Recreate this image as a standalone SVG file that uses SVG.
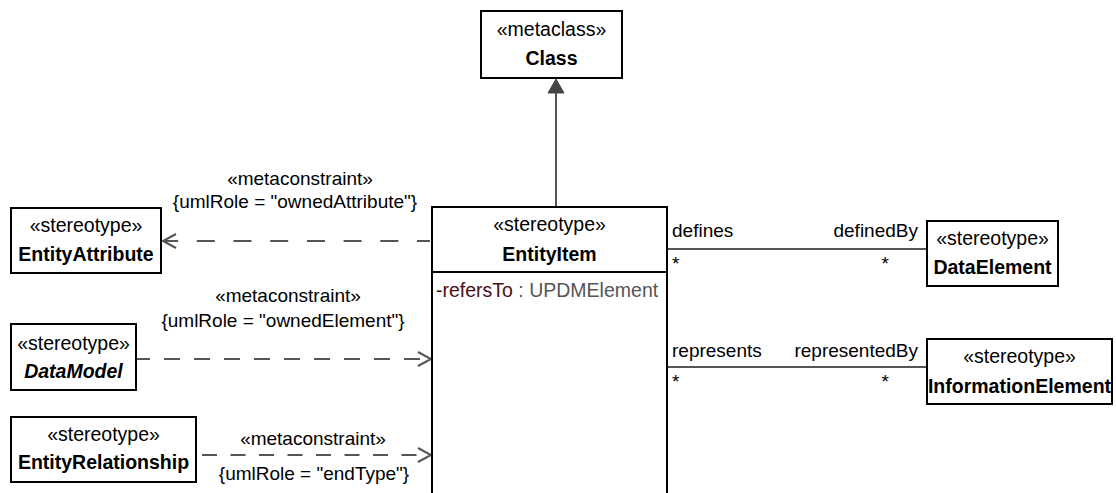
<svg xmlns="http://www.w3.org/2000/svg" width="1116" height="493" viewBox="0 0 1116 493">
<style>
text{font-family:"Liberation Sans",Arial,sans-serif;font-size:19.5px;fill:#000}
.b{font-weight:bold}
.bi{font-weight:bold;font-style:italic}
.c{text-anchor:middle}
.e{text-anchor:end}
.box{fill:#fff;stroke:#000;stroke-width:2}
.ln{fill:none;stroke:#555;stroke-width:2}
.dash{fill:none;stroke:#555;stroke-width:2}
.lbl{font-size:19px}
</style>
<rect width="1116" height="493" fill="#fff"/>
<g id="connectors">
  <line class="ln" x1="556" y1="207" x2="556" y2="90"/>
  <polygon points="556,79 548,93 564,93" fill="#444" stroke="#444" stroke-width="1"/>
  <line class="dash" x1="430" y1="241" x2="163" y2="241" stroke-dasharray="18 18.7" stroke-dashoffset="5"/>
  <polyline class="ln" points="176,234 163,241 176,248"/>
  <line class="dash" x1="137" y1="359" x2="431" y2="359" stroke-dasharray="16 14" stroke-dashoffset="3"/>
  <polyline class="ln" points="418,352 431,359 418,366"/>
  <line class="dash" x1="202" y1="455" x2="431" y2="455" stroke-dasharray="15 13.5"/>
  <polyline class="ln" points="418,448 431,455 418,462"/>
  <line class="ln" x1="668" y1="249" x2="927" y2="249"/>
  <line class="ln" x1="668" y1="367" x2="927" y2="367"/>
  <text class="c lbl" x="300" y="185">«metaconstraint»</text>
  <text class="c lbl" x="295" y="208">{umlRole = "ownedAttribute"}</text>
  <text class="c lbl" x="288" y="302">«metaconstraint»</text>
  <text class="c lbl" x="283" y="327">{umlRole = "ownedElement"}</text>
  <text class="c lbl" x="313" y="445">«metaconstraint»</text>
  <text class="c lbl" x="314" y="480">{umlRole = "endType"}</text>
  <text class="lbl" x="672" y="237">defines</text>
  <text class="e lbl" x="918" y="237">definedBy</text>
  <text class="lbl" x="672" y="270">*</text>
  <text class="e lbl" x="889" y="270">*</text>
  <text class="lbl" x="672" y="357">represents</text>
  <text class="e lbl" x="918" y="357">representedBy</text>
  <text class="lbl" x="672" y="388">*</text>
  <text class="e lbl" x="889" y="388">*</text>
</g>
<g id="Class">
  <rect class="box" x="481" y="11" width="141" height="67"/>
  <text class="c" x="551.5" y="36">«metaclass»</text>
  <text class="c b" x="551.5" y="65">Class</text>
</g>
<g id="EntityItem">
  <rect class="box" x="432" y="207" width="235" height="300"/>
  <line x1="432" y1="272" x2="667" y2="272" stroke="#000" stroke-width="2"/>
  <text class="c" x="549.5" y="231">«stereotype»</text>
  <text class="c b" x="549.5" y="261">EntityItem</text>
  <text x="436" y="297"><tspan fill="#4a1010">-refersTo</tspan><tspan fill="#555"> : UPDMElement</tspan></text>
</g>
<g id="EntityAttribute">
  <rect class="box" x="11" y="208" width="150" height="65"/>
  <text class="c" x="86" y="232">«stereotype»</text>
  <text class="c b" x="86" y="261">EntityAttribute</text>
</g>
<g id="DataModel">
  <rect class="box" x="11" y="324" width="125" height="66"/>
  <text class="c" x="73.5" y="350">«stereotype»</text>
  <text class="c bi" x="73.5" y="378">DataModel</text>
</g>
<g id="EntityRelationship">
  <rect class="box" x="11" y="417" width="185" height="65"/>
  <text class="c" x="103.5" y="441">«stereotype»</text>
  <text class="c b" x="103.5" y="469">EntityRelationship</text>
</g>
<g id="DataElement">
  <rect class="box" x="927" y="221" width="131" height="65"/>
  <text class="c" x="992.5" y="245">«stereotype»</text>
  <text class="c b" x="992.5" y="274">DataElement</text>
</g>
<g id="InformationElement">
  <rect class="box" x="927" y="339" width="185" height="65"/>
  <text class="c" x="1019.5" y="363">«stereotype»</text>
  <text class="c b" x="1019.5" y="393">InformationElement</text>
</g>
</svg>
